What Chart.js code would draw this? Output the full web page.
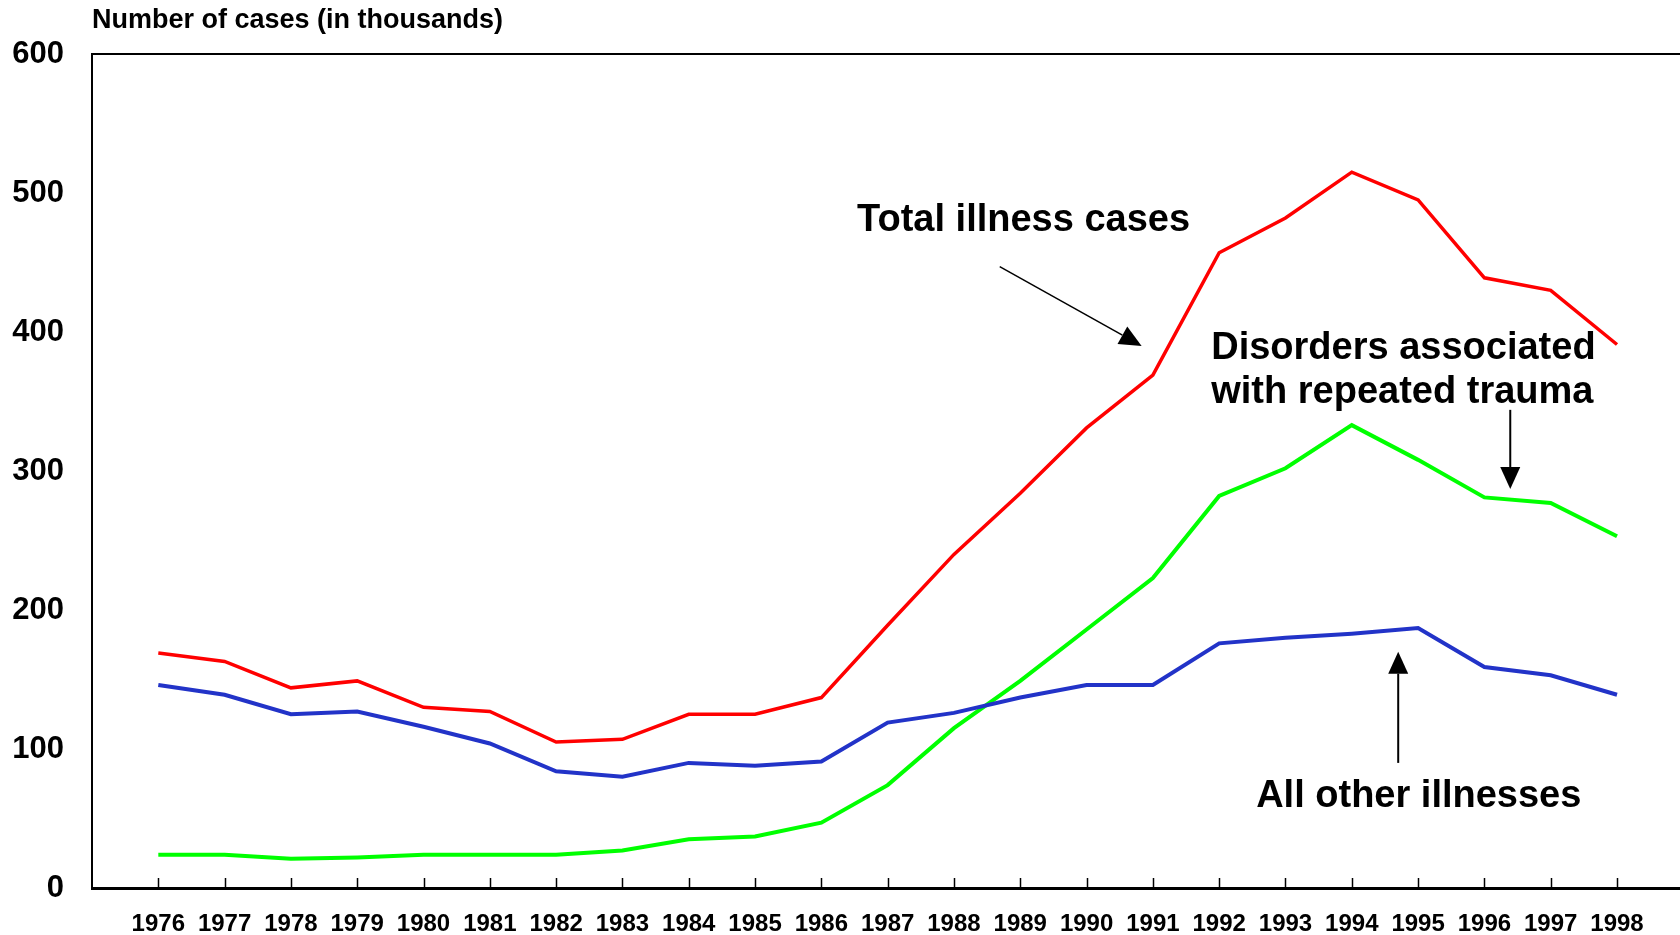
<!DOCTYPE html>
<html>
<head>
<meta charset="utf-8">
<script src="https://cdn.jsdelivr.net/npm/chart.js@4.4.0/dist/chart.umd.min.js"></script>
<style>
  html, body { margin: 0; padding: 0; background: #fff; overflow: hidden; }
  #wrap { width: 1680px; height: 935px; }
</style>
</head>
<body>
<div id="wrap"><canvas id="casesChart" width="1680" height="935"></canvas></div>
<script>
const years = [1976, 1977, 1978, 1979, 1980, 1981, 1982, 1983, 1984, 1985, 1986, 1987,
               1988, 1989, 1990, 1991, 1992, 1993, 1994, 1995, 1996, 1997, 1998];

// thousands of cases
const totalCases = [169, 163, 144, 149, 130, 127, 105, 107, 125, 125, 137, 189,
                    240, 284, 331, 369, 457, 482, 515, 495, 439, 430, 391];
const repeatedTrauma = [24, 24, 21, 22, 24, 24, 24, 27, 35, 37, 47, 74,
                        115, 149, 186, 223, 282, 302, 333, 308, 281, 277, 253];
const otherIllnesses = [146, 139, 125, 127, 116, 104, 84, 80, 90, 88, 91, 119,
                        126, 137, 146, 146, 176, 180, 183, 187, 159, 153, 139];

const yTicks = [0, 100, 200, 300, 400, 500, 600];

const yTitle = 'Number of cases (in thousands)';

// annotations, in data units (year, thousands)
const notes = [
    { lines: ['Total illness cases'], x: 1989.05, y: 480, align: 'center' },
    { lines: ['Disorders associated', 'with repeated trauma'], x: 1991.88, y: 388, align: 'left' },
    { lines: ['All other illnesses'], x: 1995.01, y: 66, align: 'center' }
];
const arrows = [
    { from: [1988.69, 447], to: [1990.83, 390], width: 1.5 },
    { from: [1996.39, 344], to: [1996.39, 287], width: 2 },
    { from: [1994.70, 90], to: [1994.70, 170], width: 2 }
];

const fontFamily = '"Liberation Sans", Arial, Helvetica, sans-serif';

function drawArrow(ctx, x1, y1, x2, y2, w) {
    const ang = Math.atan2(y2 - y1, x2 - x1);
    const headLen = 22, headW = 10;
    const bx = x2 - headLen * Math.cos(ang), by = y2 - headLen * Math.sin(ang);
    ctx.strokeStyle = '#000';
    ctx.fillStyle = '#000';
    ctx.lineWidth = w;
    ctx.beginPath();
    ctx.moveTo(x1, y1);
    ctx.lineTo(bx, by);
    ctx.stroke();
    ctx.beginPath();
    ctx.moveTo(x2, y2);
    ctx.lineTo(bx + headW * Math.sin(ang), by - headW * Math.cos(ang));
    ctx.lineTo(bx - headW * Math.sin(ang), by + headW * Math.cos(ang));
    ctx.closePath();
    ctx.fill();
}

const decorations = {
    id: 'decorations',
    afterDraw(chart) {
        const ctx = chart.ctx;
        const area = chart.chartArea;
        const xs = chart.scales.x, ys = chart.scales.y;
        ctx.save();

        // top frame line
        ctx.strokeStyle = '#000';
        ctx.lineWidth = 2;
        ctx.beginPath();
        ctx.moveTo(area.left, area.top);
        ctx.lineTo(area.right, area.top);
        ctx.stroke();

        // tick marks pointing into the plot
        ctx.lineWidth = 1.5;
        years.forEach(yr => {
            const px = Math.round(xs.getPixelForValue(yr)) + 0.5;
            ctx.beginPath();
            ctx.moveTo(px, area.bottom);
            ctx.lineTo(px, area.bottom - 10);
            ctx.stroke();
        });

        // axis title
        ctx.fillStyle = '#000';
        ctx.font = 'bold 27px ' + fontFamily;
        ctx.textAlign = 'left';
        ctx.textBaseline = 'middle';
        ctx.fillText(yTitle, area.left, 21);

        // arrows
        arrows.forEach(a => {
            drawArrow(ctx,
                xs.getPixelForValue(a.from[0]), ys.getPixelForValue(a.from[1]),
                xs.getPixelForValue(a.to[0]), ys.getPixelForValue(a.to[1]), a.width);
        });

        // labels
        ctx.font = 'bold 38px ' + fontFamily;
        ctx.fillStyle = '#000';
        notes.forEach(n => {
            ctx.textAlign = n.align;
            const px = xs.getPixelForValue(n.x);
            const py = ys.getPixelForValue(n.y);
            n.lines.forEach((t, i) => ctx.fillText(t, px, py + i * 44));
        });
        ctx.restore();
    }
};

const toPoints = vals => vals.map((v, i) => ({ x: years[i], y: v }));

new Chart(document.getElementById('casesChart').getContext('2d'), {
    type: 'line',
    data: {
        datasets: [
            { label: 'All other illnesses', data: toPoints(otherIllnesses), borderColor: '#2233C8', borderWidth: 4 },
            { label: 'Disorders associated with repeated trauma', data: toPoints(repeatedTrauma), borderColor: '#00FF00', borderWidth: 4 },
            { label: 'Total illness cases', data: toPoints(totalCases), borderColor: '#FF0000', borderWidth: 3.5 }
        ]
    },
    options: {
        responsive: false,
        animation: false,
        devicePixelRatio: 1,
        elements: { point: { radius: 0 }, line: { tension: 0 } },
        layout: { padding: { top: 54, right: 0, left: 0, bottom: 0 } },
        plugins: { legend: { display: false }, tooltip: { enabled: false } },
        scales: {
            x: {
                type: 'linear',
                min: 1975,
                max: 1998.95,
                afterBuildTicks: scale => { scale.ticks = years.map(v => ({ value: v })); },
                afterFit: scale => { scale.height = 47; },
                grid: { display: false, drawTicks: false },
                border: { display: true, color: '#000', width: 3 },
                ticks: {
                    autoSkip: false,
                    maxRotation: 0,
                    padding: 22,
                    color: '#000',
                    font: { family: fontFamily, size: 24, weight: 'bold' },
                    callback: v => String(v)
                }
            },
            y: {
                min: 0,
                max: 600,
                afterBuildTicks: scale => { scale.ticks = yTicks.map(v => ({ value: v })); },
                afterFit: scale => { scale.width = 92; },
                grid: { display: false, drawTicks: false },
                border: { display: true, color: '#000', width: 2 },
                ticks: {
                    padding: 28,
                    color: '#000',
                    font: { family: fontFamily, size: 31, weight: 'bold' }
                }
            }
        }
    },
    plugins: [decorations]
});
</script>
</body>
</html>
